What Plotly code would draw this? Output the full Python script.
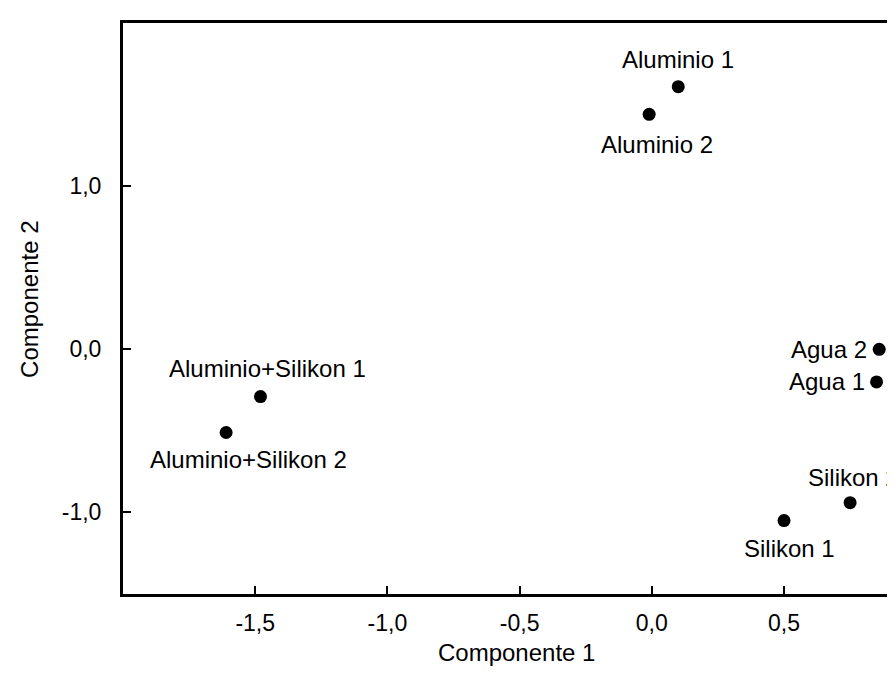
import plotly.graph_objects as go

labels = ["Aluminio 1", "Aluminio 2", "Aluminio+Silikon 1", "Aluminio+Silikon 2",
          "Agua 2", "Agua 1", "Silikon 2", "Silikon 1"]
comp1 = [0.10, -0.01, -1.48, -1.61, 0.86, 0.85, 0.75, 0.50]
comp2 = [1.61, 1.44, -0.29, -0.51, 0.00, -0.20, -0.94, -1.05]

# label placement relative to its point (pixels) - style only
label_dx = [0, 8, 7, 22, -10, -10, 3, 5]
label_dy = [-27, 30, -28, 27, 0, 0, -25, 28]
label_anchor = ["center", "center", "center", "center", "right", "right", "center", "center"]

x_ticks = [-1.5, -1.0, -0.5, 0.0, 0.5]
x_ticktext = ["-1,5", "-1,0", "-0,5", "0,0", "0,5"]
y_ticks = [-1.0, 0.0, 1.0]
y_ticktext = ["-1,0", "0,0", "1,0"]

FONT = "Liberation Sans, Arial, sans-serif"
LBL = 24
TICK = 23
TITLE = 24

fig = go.Figure()
fig.add_trace(go.Scatter(
    x=comp1, y=comp2, mode="markers",
    marker=dict(color="black", size=13),
    cliponaxis=False, showlegend=False,
))

annotations = []
for lab, xv, yv, dx, dy, anc in zip(labels, comp1, comp2, label_dx, label_dy, label_anchor):
    annotations.append(dict(
        text=lab, x=xv, y=yv, xref="x", yref="y", showarrow=False,
        xanchor=anc, yanchor="middle", xshift=dx, yshift=-dy,
        font=dict(family=FONT, size=LBL, color="black"),
    ))

annotations += [
    dict(text="Componente 1", xref="x", yref="paper", x=-0.51, y=0,
         xanchor="center", yanchor="middle", yshift=-58, showarrow=False,
         font=dict(family=FONT, size=TITLE, color="black")),
    dict(text="Componente 2", xref="paper", yref="paper", x=0, y=0.515,
         xanchor="center", yanchor="middle", xshift=-93, textangle=-90, showarrow=False,
         font=dict(family=FONT, size=TITLE, color="black")),
]

fig.update_layout(
    width=895, height=680,
    margin=dict(l=115, r=0, t=15, b=94),
    paper_bgcolor="white", plot_bgcolor="white",
    font=dict(family=FONT, size=TICK, color="black"),
    xaxis=dict(range=[-2.0, 0.95], tickvals=x_ticks, ticktext=x_ticktext,
               showgrid=False, zeroline=False, showline=True, linecolor="black",
               linewidth=3, mirror=True, ticks="inside", ticklen=8, tickwidth=2,
               tickcolor="black", tickfont=dict(size=TICK), ticklabelstandoff=6),
    yaxis=dict(range=[-1.5, 2.0], tickvals=y_ticks, ticktext=y_ticktext,
               showgrid=False, zeroline=False, showline=True, linecolor="black",
               linewidth=3, mirror=False, ticks="inside", ticklen=8, tickwidth=2,
               tickcolor="black", tickfont=dict(size=TICK), ticklabelstandoff=14),
    annotations=annotations,
)

fig.write_html("out.html")
